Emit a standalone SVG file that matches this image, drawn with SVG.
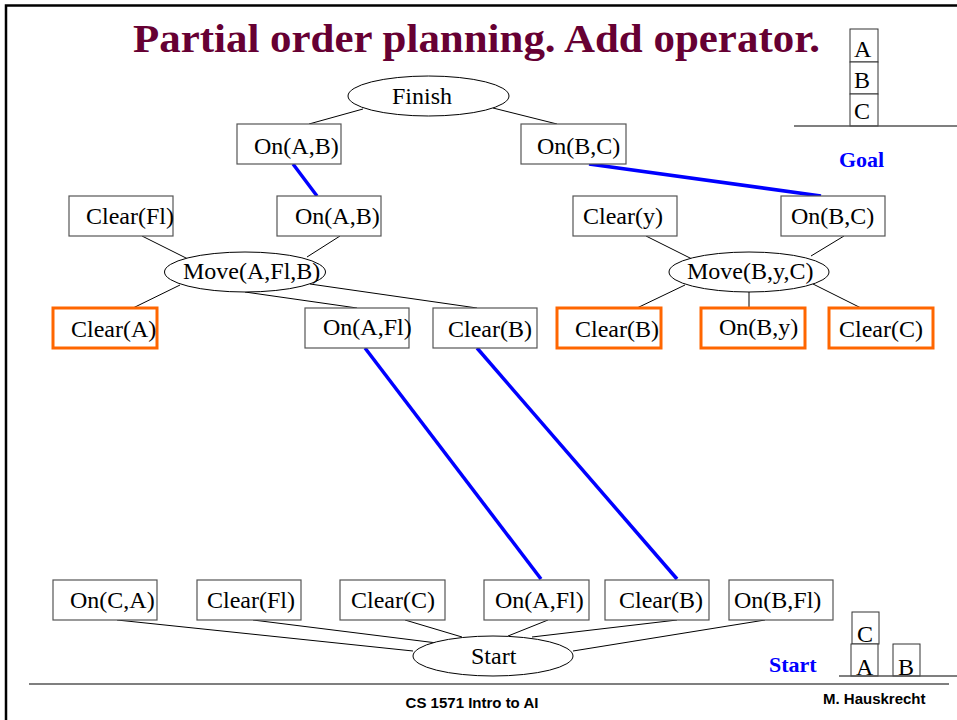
<svg xmlns="http://www.w3.org/2000/svg" width="957" height="720" viewBox="0 0 957 720">
<style>
.bx{fill:#fff;stroke:#555;stroke-width:1.2}
.ob{fill:#fff;stroke:#ff6600;stroke-width:3}
.el{fill:#fff;stroke:#000;stroke-width:1}
.t{font-family:"Liberation Serif","Times New Roman",serif;font-size:24px;fill:#000}
.ln{stroke:#000;stroke-width:1;fill:none}
.bl{stroke:#0000ff;stroke-width:3.5;fill:none}
.lab{font-family:"Liberation Serif","Times New Roman",serif;font-size:22px;font-weight:bold;fill:#0000ff}
.blk{fill:#fff;stroke:#333;stroke-width:1}
.gl{stroke:#555;stroke-width:1.5}
.ft{font-family:"Liberation Sans",Arial,sans-serif;font-size:15px;font-weight:bold;fill:#000}
</style>
<rect width="957" height="720" fill="#fff"/>
<path d="M6 720 V5.5 H957" fill="none" stroke="#000" stroke-width="2.5"/>
<text x="133" y="52" font-family="Liberation Serif,'Times New Roman',serif" font-size="41" font-weight="bold" fill="#660033" textLength="687" lengthAdjust="spacingAndGlyphs">Partial order planning. Add operator.</text>

<g id="connectors">
<line class="ln" x1="363" y1="109" x2="309" y2="124"/>
<line class="ln" x1="493" y1="108" x2="557" y2="124"/>
<line class="ln" x1="142" y1="236" x2="188" y2="259"/>
<line class="ln" x1="340" y1="236" x2="307" y2="257"/>
<line class="ln" x1="180" y1="285" x2="133" y2="308"/>
<line class="ln" x1="245" y1="292" x2="357" y2="308"/>
<line class="ln" x1="310" y1="284" x2="477" y2="308"/>
<line class="ln" x1="646" y1="236" x2="692" y2="259"/>
<line class="ln" x1="844" y1="236" x2="811" y2="256"/>
<line class="ln" x1="685" y1="285" x2="637" y2="308"/>
<line class="ln" x1="749" y1="292" x2="749" y2="308"/>
<line class="ln" x1="813" y1="284" x2="861" y2="308"/>
<line class="ln" x1="117" y1="620" x2="413" y2="651"/>
<line class="ln" x1="253" y1="620" x2="437" y2="643"/>
<line class="ln" x1="405" y1="620" x2="462" y2="637"/>
<line class="ln" x1="548" y1="620" x2="508" y2="636"/>
<line class="ln" x1="677" y1="620" x2="532" y2="637"/>
<line class="ln" x1="765" y1="620" x2="573" y2="651"/>
<line class="bl" x1="293" y1="164" x2="317" y2="196"/>
<line class="bl" x1="589" y1="164" x2="821" y2="196"/>
<line class="bl" x1="365" y1="348" x2="541" y2="579"/>
<line class="bl" x1="477" y1="348" x2="677" y2="579"/>
</g>

<g id="finish"><ellipse class="el" cx="428.5" cy="96" rx="80.5" ry="20"/><text class="t" x="392" y="104">Finish</text></g>
<g id="onAB-goal"><rect class="bx" x="237" y="124" width="104" height="40"/><text class="t" x="254" y="154">On(A,B)</text></g>
<g id="onBC-goal"><rect class="bx" x="521" y="124" width="105" height="40"/><text class="t" x="537" y="154">On(B,C)</text></g>

<g id="clearFl-pre"><rect class="bx" x="69" y="196" width="104" height="40"/><text class="t" x="86" y="224">Clear(Fl)</text></g>
<g id="onAB-eff"><rect class="bx" x="277" y="196" width="104" height="40"/><text class="t" x="295" y="224">On(A,B)</text></g>
<g id="move-AFlB"><ellipse class="el" cx="245" cy="272" rx="80.5" ry="20"/><text class="t" x="183" y="279">Move(A,Fl,B)</text></g>
<g id="clearA"><rect class="ob" x="53" y="308" width="104" height="40"/><text class="t" x="71" y="337">Clear(A)</text></g>
<g id="onAFl-pre"><rect class="bx" x="305" y="308" width="104" height="40"/><text class="t" x="323" y="335">On(A,Fl)</text></g>
<g id="clearB-pre1"><rect class="bx" x="433" y="308" width="104" height="40"/><text class="t" x="448" y="337">Clear(B)</text></g>

<g id="clearY"><rect class="bx" x="573" y="196" width="104" height="40"/><text class="t" x="583" y="224">Clear(y)</text></g>
<g id="onBC-eff"><rect class="bx" x="781" y="196" width="104" height="40"/><text class="t" x="791" y="224">On(B,C)</text></g>
<g id="move-ByC"><ellipse class="el" cx="749" cy="272" rx="80" ry="20"/><text class="t" x="687" y="279">Move(B,y,C)</text></g>
<g id="clearB-pre2"><rect class="ob" x="557" y="308" width="104" height="40"/><text class="t" x="575" y="337">Clear(B)</text></g>
<g id="onBy"><rect class="ob" x="701" y="308" width="104" height="40"/><text class="t" x="719" y="335">On(B,y)</text></g>
<g id="clearC-pre"><rect class="ob" x="829" y="308" width="104" height="40"/><text class="t" x="839" y="337">Clear(C)</text></g>

<g id="s-onCA"><rect class="bx" x="53" y="580" width="104" height="40"/><text class="t" x="70" y="608">On(C,A)</text></g>
<g id="s-clearFl"><rect class="bx" x="197" y="580" width="104" height="40"/><text class="t" x="207" y="608">Clear(Fl)</text></g>
<g id="s-clearC"><rect class="bx" x="340" y="580" width="105" height="40"/><text class="t" x="351" y="608">Clear(C)</text></g>
<g id="s-onAFl"><rect class="bx" x="484" y="580" width="105" height="40"/><text class="t" x="495" y="608">On(A,Fl)</text></g>
<g id="s-clearB"><rect class="bx" x="605" y="580" width="104" height="40"/><text class="t" x="619" y="608">Clear(B)</text></g>
<g id="s-onBFl"><rect class="bx" x="729" y="580" width="104" height="40"/><text class="t" x="734" y="608">On(B,Fl)</text></g>
<g id="start"><ellipse class="el" cx="493" cy="656" rx="80" ry="20"/><text class="t" x="471" y="664">Start</text></g>

<g id="goal-stack">
<rect class="blk" x="850" y="29" width="28" height="33"/><text class="t" x="854" y="57">A</text>
<rect class="blk" x="850" y="62" width="28" height="32"/><text class="t" x="854" y="88">B</text>
<rect class="blk" x="850" y="94" width="28" height="32"/><text class="t" x="854" y="119">C</text>
<line class="gl" x1="794" y1="126" x2="957" y2="126"/>
<text class="lab" x="839" y="167">Goal</text>
</g>
<g id="start-stack">
<rect class="blk" x="852" y="612" width="27" height="32"/><text class="t" x="857" y="642">C</text>
<rect class="blk" x="851" y="644" width="27" height="32"/><text class="t" x="856" y="675">A</text>
<rect class="blk" x="893" y="644" width="27" height="32"/><text class="t" x="898" y="675">B</text>
<line class="gl" x1="839" y1="676" x2="957" y2="676"/>
<text class="lab" x="769" y="672">Start</text>
</g>

<line x1="29" y1="684" x2="949" y2="684" stroke="#555" stroke-width="1.5"/>
<text class="ft" x="472" y="708" text-anchor="middle">CS 1571 Intro to AI</text>
<text class="ft" x="823" y="704">M. Hauskrecht</text>
</svg>
